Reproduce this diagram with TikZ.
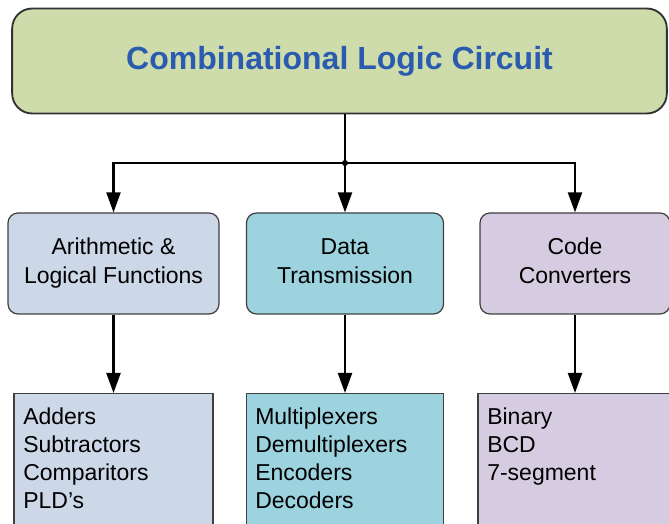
\documentclass[tikz,border=0pt]{standalone}
\usepackage{fontspec}
\setmainfont{Liberation Sans}
\usetikzlibrary{arrows.meta, positioning, calc}
\definecolor{rootgreen}{HTML}{CEDCAB}
\definecolor{titleblue}{HTML}{2B5BAF}
\definecolor{arithblue}{HTML}{CCD7E8}
\definecolor{datateal}{HTML}{9CD3DE}
\definecolor{codelilac}{HTML}{D6CCE1}

\begin{document}
\begin{tikzpicture}[x=0.75pt, y=-0.75pt,
    root/.style={draw=black!80, line width=1.4pt, rounded corners=15pt, fill=rootgreen, minimum width=491pt, minimum height=78.75pt, font=\bfseries\fontsize{24}{29}\selectfont, text=titleblue},
    group/.style={draw=black!75, line width=0.9pt, rounded corners=7.5pt, minimum height=75.75pt, align=center, font=\fontsize{17.25}{21.75}\selectfont},
    leaf/.style={draw=black!75, line width=0.9pt, anchor=north, minimum height=120pt},
    items/.style={anchor=north west, inner sep=0pt, align=left, font=\fontsize{17.25}{21}\selectfont},
    arrow/.style={-{Triangle[length=15pt,width=10.5pt]}, line width=1.6pt}
]
    \clip (0,0) rectangle (669,524);

    \node[root] (root) at (339.5,61) {Combinational Logic Circuit};

    \node[group, fill=arithblue, minimum width=158.25pt] (arith) at (113.5,263.5) {\strut Arithmetic \&\\\strut Logical Functions};
    \node[group, fill=datateal, minimum width=147.75pt] (data) at (345,263.5) {\strut Data\\\strut Transmission};
    \node[group, fill=codelilac, minimum width=142.5pt] (code) at (575,263.5) {\strut Code\\\strut Converters};

    \node[leaf, fill=arithblue, minimum width=149.25pt] (arithbox) at (113.5,393) {};
    \node[leaf, fill=datateal, minimum width=147.75pt] (databox) at (345,393) {};
    \node[leaf, fill=codelilac, minimum width=145.5pt] (codebox) at (575,393) {};

    \node[items] (arithlist) at (23,408) {Adders\\Subtractors\\Comparitors\\PLD's};
    \node[items] (datalist) at (255,408) {Multiplexers\\Demultiplexers\\Encoders\\Decoders};
    \node[items] (codelist) at (487,408) {Binary\\BCD\\7-segment};

    % branch
    \coordinate (split) at (345,163);
    \draw[line width=1.6pt] (root.south -| split) -- (split);
    \draw[arrow] (split) -| (arith.north);
    \draw[arrow] (split) -- (data.north);
    \draw[arrow] (split) -| (code.north);
    \fill (split) circle (3);

    \draw[arrow] (arith.south) -- (arithbox.north);
    \draw[arrow] (data.south) -- (databox.north);
    \draw[arrow] (code.south) -- (codebox.north);
\end{tikzpicture}
\end{document}
